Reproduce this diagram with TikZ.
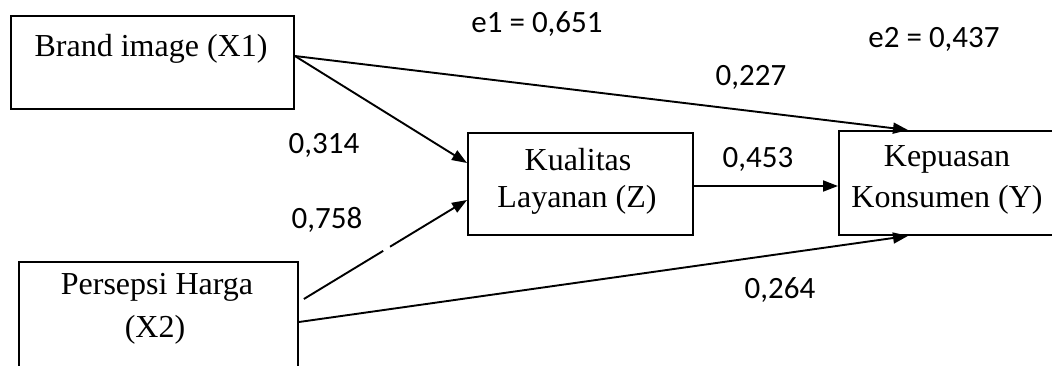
\documentclass[tikz,border=0pt]{standalone}
\usepackage{fontspec}
\setmainfont{Liberation Serif}
\newfontfamily\numfont{Carlito}
\usetikzlibrary{arrows.meta}
\tikzset{
  box/.style={draw=black, line width=1.9pt, rectangle, inner sep=0pt, anchor=north west},
  lbl/.style={font=\fontsize{32}{36}\selectfont, anchor=base, inner sep=0pt},
  num/.style={font=\numfont\fontsize{31}{36}\selectfont, anchor=base, inner sep=0pt},
  conn/.style={draw=black, line width=1.9pt, -{Triangle[length=15pt,width=11pt]}},
}
\begin{document}
\begin{tikzpicture}[x=1pt,y=-1pt]
\useasboundingbox (0,0) rectangle (1052,365);
\clip (0,0) rectangle (1052,365);
% boxes
\node[box, minimum width=283pt, minimum height=93pt] (X1) at (10,15) {};
\node[box, minimum width=279pt, minimum height=130pt] (X2) at (18,261) {};
\node[box, minimum width=225pt, minimum height=102pt] (Z) at (467,132) {};
\node[box, minimum width=240pt, minimum height=104pt] (Y) at (838,130) {};
% box texts
\node[lbl] (tX1) at (151,56) {Brand image (X1)};
\node[lbl] (tX2a) at (157,294) {Persepsi Harga};
\node[lbl] (tX2b) at (155,337) {(X2)};
\node[lbl] (tZa) at (578,170) {Kualitas};
\node[lbl] (tZb) at (577,207) {Layanan (Z)};
\node[lbl] (tYa) at (947,166) {Kepuasan};
\node[lbl] (tYb) at (947,207) {Konsumen (Y)};
% numbers
\node[num] (e1) at (537,32) {e1 = 0,651};
\node[num] (e2) at (934,47) {e2 = 0,437};
\node[num] (n227) at (751,85) {0,227};
\node[num] (n314) at (324,153) {0,314};
\node[num] (n758) at (327,228) {0,758};
\node[num] (n453) at (758,167) {0,453};
\node[num] (n264) at (780,298) {0,264};
% connectors
\draw[conn] ([yshift=-41pt]X1.north east) -- ([xshift=70pt]Y.north west);
\draw[conn] ([yshift=-41pt]X1.north east) -- ([yshift=-31pt]Z.north west);
\draw[conn, shorten <=5.8pt, dash pattern=on 92.8pt off 8pt on 300pt] ([yshift=-41pt]X2.north east) -- ([yshift=-68pt]Z.north west);
\draw[conn] ([yshift=-61pt]X2.north east) -- ([xshift=70pt]Y.south west);
\draw[conn] ([yshift=-54pt]Z.north east) -- ([yshift=-56pt]Y.north west);
\end{tikzpicture}
\end{document}
